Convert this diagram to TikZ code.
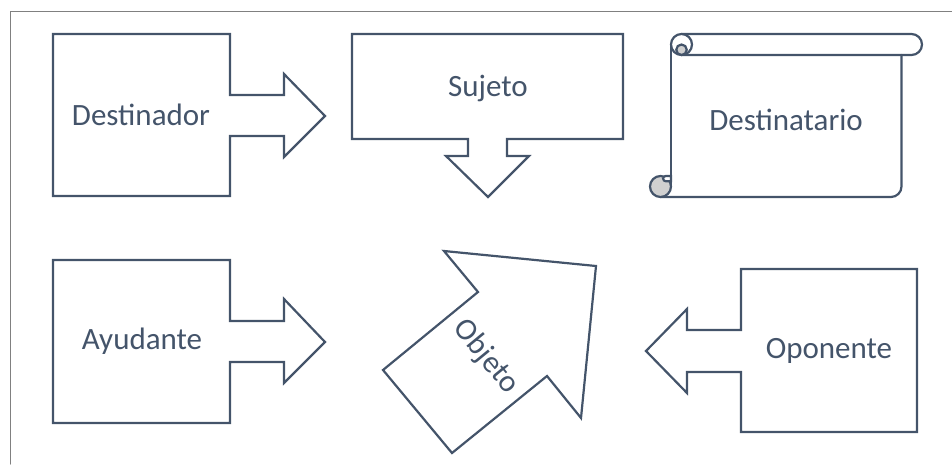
\documentclass[tikz,border=0pt]{standalone}
\usepackage{fontspec}
\setmainfont{Carlito}
\definecolor{slate}{HTML}{44546A}
\definecolor{curlgray}{HTML}{D0D0D0}
\tikzset{
  shp/.style={draw=slate, line width=2.2pt, line join=miter},
  lbl/.style={text=slate, font=\fontsize{31}{33}\selectfont, inner sep=0pt}
}
\begin{document}
\begin{tikzpicture}[x=1pt, y=-1pt, line cap=round]
\useasboundingbox (0,0) rectangle (952,464);
% frame
\draw[gray, line width=1pt] (10,464)--(10,11)--(952,11);
% callout arrows
\draw[shp] (53,34)--(230,34)--(230,95)--(284,95)--(284,74)--(325,116)--(284,157)--(284,136)--(230,136)--(230,196)--(53,196)--cycle;
\draw[shp] (352,34)--(623,34)--(623,139)--(507,139)--(507,156)--(529,156)--(488,197)--(446,156)--(468,156)--(468,139)--(352,139)--cycle;
\draw[shp] (53,260)--(230,260)--(230,321)--(284,321)--(284,299)--(325,342)--(284,383)--(284,362)--(230,362)--(230,423)--(53,423)--cycle;
\draw[shp] (596,266)--(581,418)--(547,376)--(452,453)--(383,370)--(478,292)--(444,251)--cycle;
\draw[shp] (917,269)--(917,432)--(741,432)--(741,372)--(687,372)--(687,393)--(646,351)--(687,309)--(687,330)--(741,330)--(741,269)--cycle;
% scroll
\draw[shp] (671,44.5)--(671,186.5);
\draw[shp, rounded corners=10.5pt] (660.5,197)--(901.5,197)--(901.5,55);
\draw[shp, rounded corners=10.5pt] (681.5,55)--(922,55)--(922,34)--(681.5,34);
\draw[shp, fill=white] (681.5,44.5) circle[radius=10.5];
\draw[shp, fill=curlgray] (681.5,49.75) circle[radius=5.25];
\draw[shp, fill=curlgray] (660.5,186.5) circle[radius=10.5];
\draw[shp, fill=white] (671,176)--(671,181.25)--(665.75,181.25) arc[start angle=90, end angle=270, radius=2.625]--cycle;
% labels
\foreach \n/\t/\p in {destinador/Destinador/{141,115}, sujeto/Sujeto/{488,88},
  destinatario/Destinatario/{786,120}, ayudante/Ayudante/{142,341}, oponente/Oponente/{829,351}}
  \node[lbl] (\n) at (\p) {\t};
\node[lbl, rotate=-50.6] (objeto) at (486,357) {Objeto};
\end{tikzpicture}
\end{document}
